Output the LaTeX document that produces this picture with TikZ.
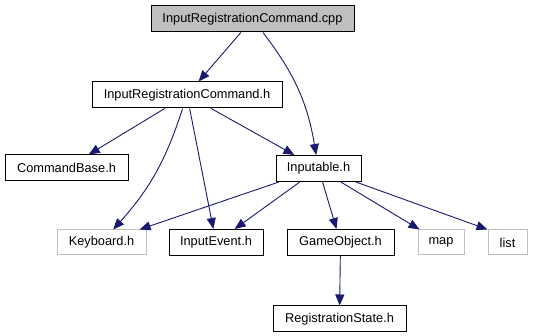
\documentclass[tikz,border=0pt]{standalone}
\usepackage{fontspec}
\setmainfont{Liberation Sans}
\usepackage{xcolor}
\usepackage{tikz}
\usetikzlibrary{arrows.meta}
\definecolor{edgeblue}{RGB}{25,25,112}
\definecolor{boxgray}{RGB}{191,191,191}
\tikzstyle{hfile}=[rectangle, draw=black, line width=1pt,% a plain header box
inner sep=0pt, minimum height=26pt, font=\fontsize{12.8}{15}\selectfont]
\tikzstyle{hfilesys}=[hfile, draw=boxgray]
\tikzstyle{hfiletop}=[hfile, fill=boxgray]
\tikzstyle{incl}=[-{Triangle[length=11pt,width=9pt]}, draw=edgeblue, line width=0.9pt]

\begin{document}
\begin{tikzpicture}[x=1pt,y=1pt,incl]
\useasboundingbox (0,0) rectangle (533,336);
\node[hfiletop, minimum width=203pt] (cpp) at (252.5,317) {InputRegistrationCommand.cpp};
\node[hfile, minimum width=190pt] (irch) at (187,241) {InputRegistrationCommand.h};
\node[hfile, minimum width=123pt] (cbase) at (66.5,168) {CommandBase.h};
\node[hfile, minimum width=85pt] (inp) at (318.5,167.5) {Inputable.h};
\node[hfilesys, minimum width=89pt, minimum height=25pt] (kbd) at (101.5,93.5) {Keyboard.h};
\node[hfile, minimum width=94pt] (ievt) at (216,93.5) {InputEvent.h};
\node[hfile, minimum width=107pt] (gobj) at (340.5,93.5) {GameObject.h};
\node[hfilesys, minimum width=46pt, minimum height=25pt] (map) at (441,93.5) {map};
\node[hfilesys, minimum width=39pt, minimum height=25pt] (list) at (507.5,93.5) {list};
\node[hfile, minimum width=133pt] (rstate) at (339.5,17) {RegistrationState.h};
% includes
\draw (cpp) -- (irch);
\draw (cpp) to[bend left=14] (inp);
\draw (irch) -- (cbase);
\draw (irch) to[bend left=12] (kbd);
\draw (irch) -- (ievt);
\draw (irch) -- (inp);
\draw (inp) -- (kbd);
\draw (inp) -- (ievt);
\draw (inp) -- (gobj);
\draw (inp) -- (map);
\draw (inp) -- (list.north west);
\draw (gobj) -- (rstate);
\end{tikzpicture}
\end{document}
